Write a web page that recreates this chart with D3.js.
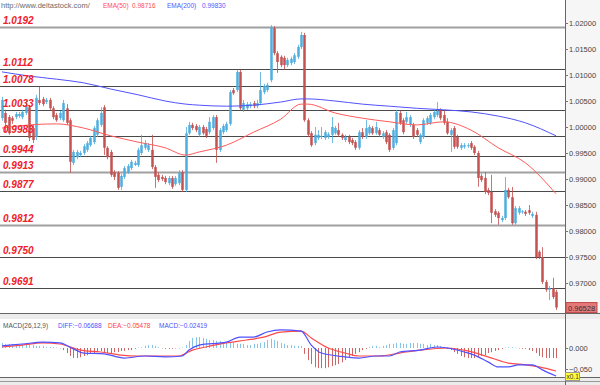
<!DOCTYPE html>
<html>
<head>
<meta charset="utf-8">
<script src="https://cdn.jsdelivr.net/npm/d3@7"></script>
<style>
  body { margin: 0; background: #fff; }
  svg { display: block; font-family: "Liberation Sans", Arial, sans-serif; }
</style>
</head>
<body>
<div id="chart"></div>
<script>

// candle data (o, h, l, c)
var opens  = [1.0017,1.0027,1.0019,1.0017,1.0019,1.0021,1.0019,1.0027,1.0038,0.9998,0.9981,1.0052,1.0054,1.0048,1.0052,1.0036,1.0023,1.0017,1.0013,1.0036,1.0013,0.9931,0.9942,0.9946,0.9950,0.9956,0.9965,0.9971,0.9985,1.0004,1.0038,0.9960,0.9952,0.9913,0.9912,0.9885,0.9904,0.9913,0.9921,0.9927,0.9927,0.9950,0.9960,0.9956,0.9956,0.9923,0.9908,0.9904,0.9902,0.9892,0.9902,0.9890,0.9892,0.9913,0.9879,0.9988,1.0004,1.0002,0.9985,1.0000,0.9996,0.9990,0.9998,1.0019,0.9956,0.9990,0.9994,1.0006,1.0071,1.0071,1.0106,1.0033,1.0036,1.0040,1.0046,1.0040,1.0046,1.0067,1.0071,1.0090,1.0190,1.0142,1.0135,1.0133,1.0119,1.0123,1.0125,1.0135,1.0154,1.0177,1.0013,0.9988,0.9969,0.9979,0.9981,0.9979,0.9981,0.9985,0.9988,0.9994,0.9985,0.9975,0.9981,0.9975,0.9971,0.9960,0.9990,0.9981,0.9988,0.9998,0.9988,0.9994,0.9981,0.9990,0.9985,0.9960,0.9969,1.0027,1.0013,1.0010,1.0004,1.0004,0.9994,0.9971,0.9981,1.0008,1.0008,1.0019,1.0023,1.0033,1.0023,1.0010,0.9985,0.9998,0.9981,0.9960,0.9962,0.9963,0.9969,0.9962,0.9950,0.9906,0.9902,0.9879,0.9875,0.9838,0.9835,0.9821,0.9825,0.9879,0.9865,0.9815,0.9835,0.9837,0.9837,0.9840,0.9829,0.9831,0.9760,0.9750,0.9702,0.9687,0.9690,0.9683];
var highs  = [1.0058,1.0033,1.0023,1.0021,1.0029,1.0029,1.0033,1.0050,1.0042,1.0004,1.0062,1.0077,1.0058,1.0056,1.0056,1.0040,1.0027,1.0031,1.0052,1.0044,1.0017,0.9956,0.9956,0.9954,0.9967,0.9973,0.9983,1.0002,1.0017,1.0038,1.0042,0.9963,0.9956,0.9917,0.9915,0.9910,0.9925,0.9929,0.9937,0.9935,0.9960,0.9985,0.9975,0.9969,0.9985,0.9927,0.9912,0.9908,0.9906,0.9906,0.9906,0.9906,0.9917,0.9917,1.0000,1.0010,1.0008,1.0006,1.0004,1.0004,1.0000,1.0019,1.0023,1.0023,0.9998,1.0006,1.0010,1.0071,1.0075,1.0110,1.0110,1.0052,1.0048,1.0048,1.0050,1.0052,1.0106,1.0083,1.0085,1.0196,1.0194,1.0146,1.0138,1.0137,1.0133,1.0135,1.0142,1.0158,1.0183,1.0181,1.0017,0.9992,1.0000,0.9994,1.0000,0.9994,0.9990,1.0019,1.0002,1.0008,0.9988,0.9985,0.9985,0.9979,0.9975,0.9994,0.9998,1.0013,1.0004,1.0002,1.0010,0.9998,0.9992,0.9994,0.9988,0.9998,1.0033,1.0031,1.0017,1.0029,1.0023,1.0008,0.9998,0.9988,1.0017,1.0021,1.0027,1.0033,1.0048,1.0036,1.0033,1.0017,0.9998,1.0002,0.9985,0.9969,0.9969,0.9969,0.9973,0.9965,0.9954,0.9910,0.9913,0.9883,0.9908,0.9842,0.9838,0.9829,0.9904,0.9883,0.9885,0.9848,0.9848,0.9840,0.9840,0.9850,0.9837,0.9837,0.9763,0.9769,0.9706,0.9694,0.9710,0.9687];
var lows   = [1.0012,0.9990,0.9985,1.0006,1.0015,1.0017,1.0015,1.0023,0.9973,0.9969,0.9975,1.0042,1.0040,1.0044,1.0033,1.0015,1.0010,1.0013,1.0010,1.0004,0.9912,0.9927,0.9938,0.9942,0.9946,0.9952,0.9962,0.9967,0.9981,1.0000,0.9946,0.9938,0.9904,0.9898,0.9879,0.9879,0.9900,0.9910,0.9917,0.9925,0.9923,0.9946,0.9956,0.9952,0.9919,0.9883,0.9894,0.9896,0.9890,0.9888,0.9881,0.9887,0.9888,0.9875,0.9875,0.9985,0.9994,0.9990,0.9981,0.9985,0.9979,0.9986,0.9994,0.9931,0.9952,0.9986,0.9990,1.0002,1.0062,1.0067,1.0033,1.0029,1.0033,1.0036,1.0036,1.0036,1.0042,1.0063,1.0067,1.0086,1.0138,1.0104,1.0115,1.0110,1.0115,1.0119,1.0121,1.0131,1.0150,1.0010,0.9981,0.9962,0.9965,0.9975,0.9977,0.9975,0.9977,0.9969,0.9985,0.9981,0.9975,0.9971,0.9967,0.9965,0.9956,0.9956,0.9977,0.9977,0.9985,0.9985,0.9985,0.9981,0.9977,0.9967,0.9952,0.9956,0.9965,1.0004,0.9986,1.0006,1.0000,0.9977,0.9981,0.9967,0.9977,1.0004,1.0004,1.0015,1.0019,1.0013,1.0004,0.9985,0.9952,0.9958,0.9958,0.9956,0.9958,0.9960,0.9956,0.9946,0.9885,0.9894,0.9871,0.9869,0.9815,0.9827,0.9812,0.9817,0.9821,0.9862,0.9812,0.9812,0.9831,0.9833,0.9829,0.9831,0.9825,0.9746,0.9746,0.9698,0.9683,0.9667,0.9669,0.9648];
var closes = [1.0052,1.0008,0.9988,1.0012,1.0025,1.0025,1.0029,1.0042,0.9979,0.9975,1.0056,1.0046,1.0044,1.0052,1.0036,1.0019,1.0013,1.0027,1.0046,1.0008,0.9933,0.9952,0.9952,0.9950,0.9963,0.9969,0.9979,0.9998,1.0013,1.0027,0.9960,0.9942,0.9908,0.9904,0.9883,0.9906,0.9921,0.9925,0.9933,0.9931,0.9956,0.9965,0.9969,0.9965,0.9923,0.9904,0.9898,0.9900,0.9894,0.9902,0.9885,0.9902,0.9912,0.9879,0.9988,1.0004,0.9998,0.9994,1.0000,0.9988,0.9983,1.0010,1.0019,0.9956,0.9994,1.0002,1.0006,1.0067,1.0065,1.0106,1.0036,1.0046,1.0044,1.0044,1.0040,1.0046,1.0071,1.0079,1.0081,1.0192,1.0142,1.0125,1.0119,1.0119,1.0129,1.0131,1.0138,1.0154,1.0177,1.0013,0.9985,0.9965,0.9985,0.9985,0.9983,0.9990,0.9986,1.0000,0.9998,0.9985,0.9979,0.9981,0.9971,0.9969,0.9960,0.9990,0.9981,0.9998,1.0000,0.9988,1.0000,0.9985,0.9988,0.9971,0.9956,0.9994,1.0029,1.0008,0.9990,1.0019,1.0019,0.9981,0.9985,0.9985,1.0013,1.0017,1.0023,1.0029,1.0031,1.0017,1.0008,0.9988,0.9994,0.9962,0.9962,0.9965,0.9965,0.9965,0.9960,0.9950,0.9902,0.9898,0.9875,0.9873,0.9835,0.9831,0.9825,0.9825,0.9879,0.9865,0.9815,0.9844,0.9844,0.9838,0.9833,0.9835,0.9833,0.9750,0.9750,0.9702,0.9687,0.9690,0.9673,0.96528];

// moving averages, sampled at candle indices
var emaIdx = [0,8,16,24,32,40,48,54,58,66,74,82,88,90,98,106,114,122,130,138,146,154,163];
var ema200 = [1.0106,1.0098,1.0092,1.0085,1.0073,1.0062,1.0050,1.0044,1.0042,1.0040,1.0042,1.0048,1.0054,1.0054,1.0050,1.0044,1.0040,1.0036,1.0033,1.0029,1.0021,1.0008,0.9983];
var ema50  = [0.9998,1.0004,1.0006,0.9998,0.9983,0.9971,0.9960,0.9946,0.9952,0.9965,0.9990,1.0015,1.0044,1.0044,1.0027,1.0017,1.0010,1.0004,1.0010,0.9994,0.9960,0.9931,0.98716];

// support / resistance levels
var levels = [1.0192, 1.0112, 1.0078, 1.0033, 0.9983, 0.9944, 0.9913, 0.9877, 0.9812, 0.9750, 0.9691];
var priceTicks = [1.02, 1.015, 1.01, 1.005, 1.0, 0.995, 0.99, 0.985, 0.98, 0.975, 0.97];

// MACD panel
var diffIdx = [0,6,12,17,21,24,30,36,42,48,53,55,58,66,70,74,78,82,88,91,94,101,105,110,114,117,123,128,131,136,139,143,146,149,152,156,159,163];
var diffVals = [0.005,0.0095,0.014,0.012,-0.002,-0.012,-0.014,-0.024,-0.019,-0.021,-0.019,-0.005,0.007,0.014,0.026,0.026,0.038,0.043,0.040,0.007,-0.012,-0.021,-0.024,-0.019,-0.019,-0.0095,-0.005,0.0024,0,-0.0095,-0.017,-0.033,-0.045,-0.045,-0.040,-0.040,-0.052,-0.06688];
var deaIdx = [0,6,12,17,23,29,35,40,52,56,60,66,72,77,82,88,91,96,101,105,111,117,123,131,137,143,149,154,158,163];
var deaVals = [0.0024,0.007,0.012,0.0095,-0.005,-0.0095,-0.017,-0.019,-0.019,-0.005,0.0024,0.012,0.019,0.026,0.038,0.040,0.024,0,-0.012,-0.019,-0.019,-0.012,-0.005,0,-0.007,-0.021,-0.036,-0.040,-0.045,-0.05478];
var histVals = [0.012,0.010,0.010,0.010,0.007,0.007,0.010,0.012,0.010,0.007,
  0.005,0.005,0.005,0.002,0.002,0.002,0.001,-0.001,-0.005,-0.012,
  -0.019,-0.024,-0.024,-0.022,-0.019,-0.017,-0.014,-0.012,-0.010,-0.007,
  -0.010,-0.012,-0.012,-0.010,-0.010,-0.007,-0.007,-0.005,-0.005,-0.002,
  0.001,0.002,0.005,0.007,0.007,0.005,0.002,-0.001,-0.002,-0.002,
  -0.002,-0.001,-0.001,0.001,0.007,0.017,0.024,0.026,0.026,0.024,
  0.022,0.019,0.019,0.017,0.017,0.014,0.014,0.012,0.012,0.010,
  0.010,0.010,0.007,0.007,0.010,0.010,0.012,0.014,0.019,0.022,
  0.019,0.017,0.012,0.010,0.007,0.007,0.005,0.005,0.005,-0.014,
  -0.029,-0.038,-0.046,-0.048,-0.048,-0.048,-0.046,-0.043,-0.041,-0.038,
  -0.034,-0.029,-0.024,-0.019,-0.014,-0.010,-0.005,-0.002,0.002,0.005,
  0.005,0.002,0.005,0.007,0.010,0.010,0.012,0.012,0.010,0.010,
  0.012,0.012,0.012,0.010,0.010,0.007,0.010,0.007,0.007,0.005,
  0.002,-0.002,-0.005,-0.010,-0.014,-0.019,-0.022,-0.024,-0.024,-0.024,
  -0.022,-0.019,-0.017,-0.012,-0.010,-0.007,-0.005,-0.002,0.001,0.002,
  0.002,0.001,-0.001,-0.002,-0.002,-0.005,-0.007,-0.012,-0.019,-0.022,
  -0.024,-0.024,-0.024,-0.02419];
var macdTicks = [0, -0.05];

var W = 600, H = 385;
var plotRight = 565;
var blue = "#4badde", red = "#c44e4e";

var svg = d3.select("#chart").append("svg")
    .attr("width", W)
    .attr("height", H);

var n = opens.length;
var x = d3.scaleLinear().domain([0, n - 1]).range([2, 556]);
var y = d3.scaleLinear().domain([0.97, 1.02]).range([283, 23]);
var ym = d3.scaleLinear().domain([-0.05, 0]).range([369, 348]);

// frame: panels, separators, right axis column
svg.append("rect").attr("width", W).attr("height", H).attr("fill", "#fff");
svg.append("rect").attr("x", plotRight).attr("y", 0).attr("width", W - plotRight).attr("height", H).attr("fill", "#f6f6f6");
svg.append("rect").attr("x", 0).attr("y", 314).attr("width", W).attr("height", 5).attr("fill", "#ececec");
svg.append("rect").attr("x", 0).attr("y", 378).attr("width", W).attr("height", 7).attr("fill", "#ececec");
svg.append("line").attr("x1", 0).attr("x2", W).attr("y1", 313.5).attr("y2", 313.5).attr("stroke", "#666");
svg.append("line").attr("x1", 0).attr("x2", W).attr("y1", 377.5).attr("y2", 377.5).attr("stroke", "#666");
svg.append("line").attr("x1", 0).attr("x2", W).attr("y1", 381.5).attr("y2", 381.5).attr("stroke", "#999");
svg.append("line").attr("x1", plotRight + 0.5).attr("x2", plotRight + 0.5).attr("y1", 0).attr("y2", H).attr("stroke", "#666");

svg.append("clipPath").attr("id", "mainClip")
    .append("rect").attr("x", 0).attr("y", 12).attr("width", plotRight).attr("height", 301);
svg.append("clipPath").attr("id", "macdClip")
    .append("rect").attr("x", 0).attr("y", 319).attr("width", plotRight).attr("height", 58);

// level lines
var grey = new Set([1.0192, 0.9913, 0.9812]);
svg.append("g").selectAll("line")
    .data(levels)
    .enter().append("line")
    .attr("x1", 0).attr("x2", plotRight)
    .attr("y1", function(d) { return Math.round(y(d)) + 0.5; })
    .attr("y2", function(d) { return Math.round(y(d)) + 0.5; })
    .attr("stroke", function(d) { return grey.has(d) ? "#a0a0a0" : "#4a4a4a"; })
    .attr("stroke-width", function(d) { return grey.has(d) ? 2 : 1; });

// candles
var idx = d3.range(n);
var main = svg.append("g").attr("clip-path", "url(#mainClip)");
var candle = main.append("g").selectAll("g")
    .data(idx)
    .enter().append("g")
    .attr("fill", function(i) { return closes[i] >= opens[i] ? blue : red; })
    .attr("stroke", function(i) { return closes[i] >= opens[i] ? blue : red; });

candle.append("line")
    .attr("x1", function(i) { return Math.round(x(i)) + 0.5; })
    .attr("x2", function(i) { return Math.round(x(i)) + 0.5; })
    .attr("y1", function(i) { return y(highs[i]); })
    .attr("y2", function(i) { return y(lows[i]); })
    .attr("stroke-width", 1)
    .attr("stroke-opacity", 0.8);

candle.append("rect")
    .attr("x", function(i) { return Math.round(x(i)) - 0.8; })
    .attr("width", 2.6)
    .attr("y", function(i) { return y(Math.max(opens[i], closes[i])); })
    .attr("height", function(i) { return Math.max(1, Math.abs(y(opens[i]) - y(closes[i]))); })
    .attr("stroke", "none")
    .attr("fill-opacity", 0.92);

// moving averages
var emaLine = function(vals) {
    return d3.line()
        .x(function(d, k) { return x(emaIdx[k]); })
        .y(function(d) { return y(d); })
        .curve(d3.curveMonotoneX)(vals);
};
main.append("path").attr("d", emaLine(ema200)).attr("fill", "none").attr("stroke", "#5252ff").attr("stroke-width", 1);
main.append("path").attr("d", emaLine(ema50)).attr("fill", "none").attr("stroke", "#ff5a5a").attr("stroke-width", 1);

// level labels
svg.append("g").selectAll("text")
    .data(levels)
    .enter().append("text")
    .attr("x", 3)
    .attr("y", function(d) { return Math.round(y(d)) - 3; })
    .attr("fill", "#f0202a")
    .attr("font-size", "10px")
    .attr("font-weight", "bold")
    .attr("font-style", "italic")
    .text(function(d) { return d3.format(".4f")(d); });

// price axis
var axis = svg.append("g")
    .attr("transform", "translate(" + plotRight + ",0)")
    .call(d3.axisRight(y).tickValues(priceTicks).tickFormat(d3.format(".5f")).tickSize(3).tickPadding(1));
axis.select(".domain").remove();
axis.selectAll("line").attr("stroke", "#777");
axis.selectAll("text").attr("font-size", "7.5px").attr("fill", "#444").attr("font-family", "Liberation Sans, Arial");

// last price box
var last = closes[n - 1];
svg.append("rect")
    .attr("x", plotRight + 1).attr("y", y(last) - 5)
    .attr("width", 31).attr("height", 10)
    .attr("fill", "#e57878").attr("stroke", "#c24848");
svg.append("text")
    .attr("x", plotRight + 3).attr("y", y(last) + 3)
    .attr("font-size", "7.5px").attr("fill", "#333")
    .text(d3.format(".5f")(last));

// header
svg.append("text").attr("x", 1).attr("y", 8).attr("font-size", "7.5px")
    .attr("fill", "#6a6a6a").text("http://www.deltastock.com/");
var header = svg.append("text").attr("y", 8).attr("font-size", "6.5px");
header.append("tspan").attr("x", 103).attr("fill", "#ff4d4d").text("EMA(50)");
header.append("tspan").attr("x", 132).attr("fill", "#ff4d4d").text(d3.format(".5f")(ema50[ema50.length - 1]));
header.append("tspan").attr("x", 167).attr("fill", "#5555ff").text("EMA(200)");
header.append("tspan").attr("x", 202).attr("fill", "#5555ff").text(d3.format(".5f")(ema200[ema200.length - 1]));

// MACD panel
var macd = svg.append("g").attr("clip-path", "url(#macdClip)");
macd.append("g").selectAll("line")
    .data(idx)
    .enter().append("line")
    .attr("x1", function(i) { return Math.round(x(i)) + 0.5; })
    .attr("x2", function(i) { return Math.round(x(i)) + 0.5; })
    .attr("y1", ym(0))
    .attr("y2", function(i) { return ym(histVals[i]); })
    .attr("stroke", function(i) { return histVals[i] >= 0 ? "#86c4e6" : "#cf6464"; })
    .attr("stroke-width", 1);

var macdLine = function(ids, vals) {
    return d3.line()
        .x(function(d, k) { return x(ids[k]); })
        .y(function(d) { return ym(d); })
        .curve(d3.curveMonotoneX)(vals);
};
macd.append("path").attr("d", macdLine(deaIdx, deaVals)).attr("fill", "none").attr("stroke", "#ff4a4a").attr("stroke-width", 1.2);
macd.append("path").attr("d", macdLine(diffIdx, diffVals)).attr("fill", "none").attr("stroke", "#5050ff").attr("stroke-width", 1.2);

var mh = svg.append("text").attr("y", 328).attr("font-size", "6.5px");
mh.append("tspan").attr("x", 3).attr("fill", "#555").text("MACD(26,12,9)");
mh.append("tspan").attr("x", 58).attr("fill", "#5050ff").text("DIFF:" + d3.format(".5f")(diffVals[diffVals.length - 1]));
mh.append("tspan").attr("x", 108).attr("fill", "#ff4040").text("DEA:" + d3.format(".5f")(deaVals[deaVals.length - 1]));
mh.append("tspan").attr("x", 159).attr("fill", "#5050ff").text("MACD:" + d3.format(".5f")(histVals[histVals.length - 1]));

var maxis = svg.append("g")
    .attr("transform", "translate(" + plotRight + ",0)")
    .call(d3.axisRight(ym).tickValues(macdTicks).tickFormat(d3.format(".3f")).tickSize(3).tickPadding(1));
maxis.select(".domain").remove();
maxis.selectAll("line").attr("stroke", "#777");
maxis.selectAll("text").attr("font-size", "7.5px").attr("fill", "#444").attr("font-family", "Liberation Sans, Arial");

// scale badge
svg.append("rect").attr("x", plotRight + 0.5).attr("y", 372.5).attr("width", 14).attr("height", 8).attr("fill", "#ffff3c").attr("stroke", "#999");
svg.append("text").attr("x", plotRight + 1.5).attr("y", 379).attr("font-size", "6.5px").attr("fill", "#333").text("x0.1");

</script>
</body>
</html>
